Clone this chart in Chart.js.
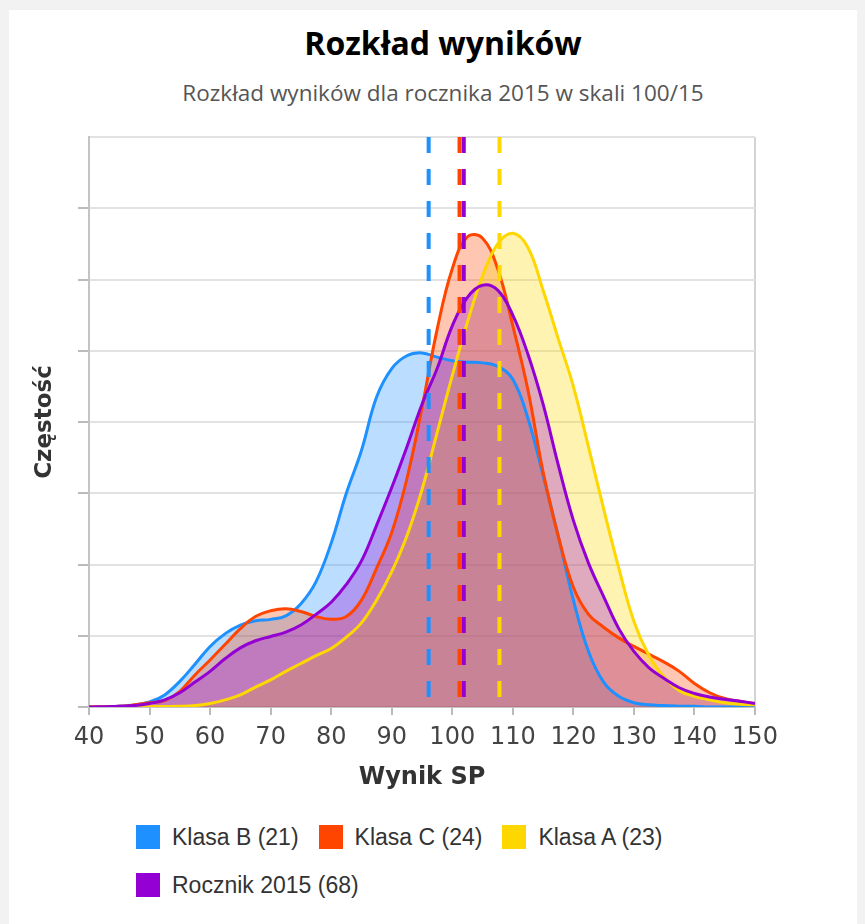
<!DOCTYPE html>
<html>
<head>
<meta charset="utf-8">
<script src="https://cdn.jsdelivr.net/npm/chart.js@4"></script>
<style>
  body { margin: 0; background: #f2f2f2; overflow: hidden; }
  #card { position: absolute; left: 9px; top: 10px; width: 848px; height: 930px; background: #fff; }
  #title { position: absolute; left: 143px; width: 600px; top: 21px; text-align: center;
    font: bold 32px "Open Sans", sans-serif; color: #000; }
  #subtitle { position: absolute; left: 93px; width: 700px; top: 77px; text-align: center;
    font: 22.5px "Open Sans", sans-serif; color: #555; }
  #chart { position: absolute; left: 9px; top: 120px; }
  #legend { position: absolute; left: 136px; top: 823px; width: 580px; display: flex; flex-wrap: wrap;
    font: 23px "Liberation Sans", Arial, sans-serif; color: #333; }
  .item { display: flex; align-items: center; height: 28px; margin: 0 20px 20px 0; }
  .box { width: 24px; height: 24px; margin-right: 12px; }
</style>
</head>
<body>
<div id="card"></div>
<div id="title">Rozkład wyników</div>
<div id="subtitle">Rozkład wyników dla rocznika 2015 w skali 100/15</div>
<canvas id="chart" width="786" height="680"></canvas>
<div id="legend"></div>
<script>
// Dane
const scores = [40, 42.5, 45, 47.5, 50, 52.5, 55, 57.5, 60, 62.5, 65, 67.5, 70, 72.5, 75, 77.5, 80, 82.5, 85, 87.5,
  90, 92.5, 95, 97.5, 100, 102.5, 105, 107.5, 110, 112.5, 115, 117.5, 120, 122.5, 125, 127.5, 130, 132.5, 135, 137.5,
  140, 142.5, 145, 147.5, 150];
const klasaB = [0, 0.005, 0.01, 0.03, 0.07, 0.17, 0.36, 0.6, 0.85, 1.03, 1.15, 1.21, 1.23, 1.28, 1.45, 1.76, 2.3, 3.0, 3.6, 4.35,
  4.75, 4.93, 4.97, 4.91, 4.86, 4.84, 4.83, 4.78, 4.6, 4.05, 3.25, 2.4, 1.5, 0.78, 0.35, 0.15, 0.06, 0.03, 0.02, 0.01,
  0.01, 0, 0, 0, 0];
const klasaC = [0, 0.005, 0.01, 0.03, 0.06, 0.09, 0.22, 0.45, 0.66, 0.88, 1.1, 1.27, 1.35, 1.38, 1.34, 1.27, 1.23, 1.27, 1.5, 1.95,
  2.45, 3.2, 4.2, 5.3, 6.15, 6.6, 6.58, 6.15, 5.35, 4.45, 3.3, 2.4, 1.68, 1.3, 1.12, 0.97, 0.85, 0.74, 0.63, 0.5,
  0.33, 0.2, 0.12, 0.08, 0.05];
const klasaA = [0, 0, 0, 0, 0.005, 0.008, 0.01, 0.02, 0.05, 0.1, 0.17, 0.28, 0.38, 0.5, 0.61, 0.72, 0.82, 0.98, 1.18, 1.5,
  1.9, 2.4, 3.05, 3.85, 4.65, 5.4, 6.05, 6.5, 6.65, 6.45, 5.85, 5.17, 4.5, 3.65, 2.78, 1.95, 1.2, 0.72, 0.42, 0.23,
  0.15, 0.1, 0.06, 0.04, 0.03];
const rocznik = [0, 0.005, 0.01, 0.02, 0.05, 0.1, 0.2, 0.35, 0.5, 0.68, 0.83, 0.93, 0.99, 1.05, 1.15, 1.3, 1.47, 1.72, 2.05, 2.55,
  3.08, 3.65, 4.25, 4.75, 5.35, 5.75, 5.92, 5.85, 5.5, 4.95, 4.25, 3.4, 2.62, 2.02, 1.55, 1.1, 0.78, 0.55, 0.4, 0.27,
  0.19, 0.14, 0.11, 0.08, 0.05];
const labels = ["Klasa B (21)", "Klasa C (24)", "Klasa A (23)", "Rocznik 2015 (68)"];
const series = [klasaB, klasaC, klasaA, rocznik];
const means = [96.1, 101.2, 107.8, 101.9];
const colors = ["#1e90ff", "#ff4500", "#ffd700", "#9400d3"];
const fills = ["rgba(30,144,255,0.3)", "rgba(255,69,0,0.3)", "rgba(255,215,0,0.3)", "rgba(148,0,211,0.3)"];
const xTicks = [40, 150, 10];
const yMax = 8;

// Krzywe rozkładu
const datasets = series.map((s, i) => ({
  label: labels[i],
  data: scores.map((x, j) => ({ x: x, y: s[j] })),
  borderColor: colors[i],
  backgroundColor: fills[i],
  borderWidth: 3,
  fill: 'origin',
  pointRadius: 0,
  tension: 0.4,
  order: 10 - i
}));

// Średnie (przerywane linie)
means.forEach((m, i) => {
  datasets.push({
    label: 'mean ' + labels[i],
    data: [{ x: m, y: yMax }, { x: m, y: 0 }],
    borderColor: colors[i],
    borderWidth: 4,
    borderDash: [16, 16],
    pointRadius: 0,
    fill: false,
    tension: 0,
    order: 5 - i
  });
});

const axisFont = { family: "DejaVu Sans", size: 24 };

new Chart(document.getElementById("chart"), {
  type: 'line',
  data: { datasets: datasets },
  options: {
    responsive: false,
    animation: false,
    layout: { padding: { top: 17, right: 40, left: 0, bottom: 0 } },
    plugins: {
      legend: { display: false },
      tooltip: { enabled: false },
      filler: { drawTime: 'beforeDatasetsDraw' }
    },
    scales: {
      x: {
        type: 'linear',
        min: xTicks[0], max: xTicks[1],
        ticks: { stepSize: xTicks[2], color: '#444', font: axisFont, padding: 8, maxRotation: 0 },
        grid: {
          color: ctx => ctx.tick && ctx.tick.value === xTicks[1] ? '#d4d4d4' : 'rgba(0,0,0,0)',
          tickColor: '#bbb', tickLength: 8, lineWidth: 2
        },
        border: { color: '#c4c4c4', width: 2 },
        title: { display: true, text: 'Wynik SP', color: '#333',
          font: { family: "DejaVu Sans", size: 24, weight: 'bold' }, padding: { bottom: 8 } },
        afterFit: s => { s.height = 93; }
      },
      y: {
        min: 0, max: yMax,
        ticks: { stepSize: 1, display: false },
        grid: {
          color: '#e2e2e2', lineWidth: 2, tickLength: 11,
          tickColor: ctx => ctx.tick && ctx.tick.value === yMax ? 'rgba(0,0,0,0)' : '#bbb'
        },
        border: { color: '#c4c4c4', width: 2 },
        title: { display: true, text: 'Częstość', color: '#333',
          font: { family: "DejaVu Sans", size: 23, weight: 'bold' }, padding: { top: 22 } },
        afterFit: s => { s.width = 80; }
      }
    }
  }
});

// Legenda
const legend = document.getElementById("legend");
labels.forEach((l, i) => {
  legend.innerHTML += `<div class="item"><span class="box" style="background:${colors[i]}"></span>${l}</div>`;
});
</script>
</body>
</html>
